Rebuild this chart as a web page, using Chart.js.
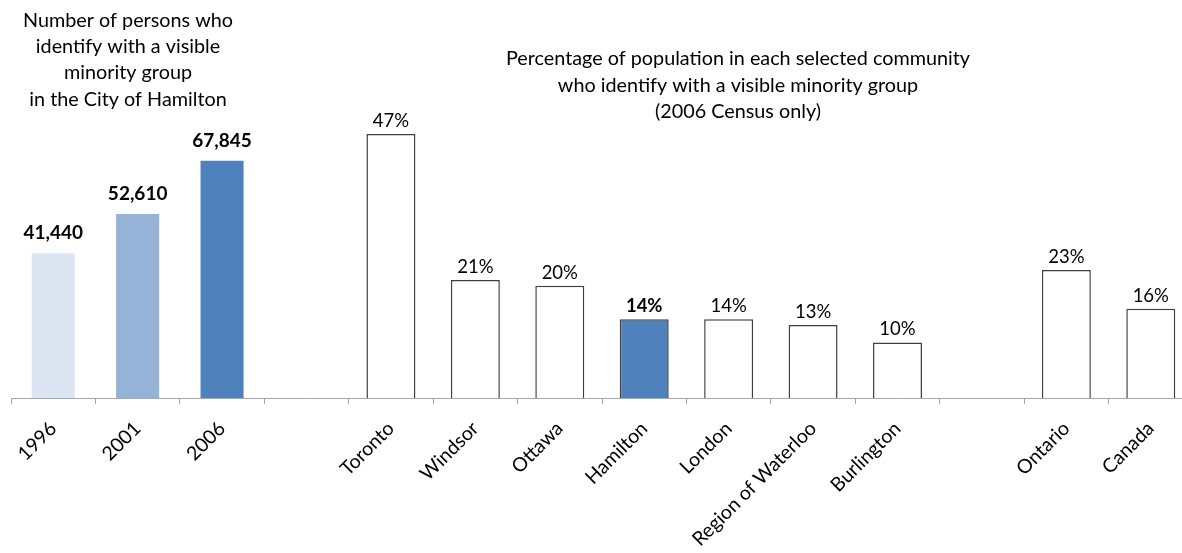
<!DOCTYPE html>
<html lang="en">
<head>
<meta charset="UTF-8">
<title>Visible Minority Groups - Hamilton</title>
<script src="https://cdn.jsdelivr.net/npm/chart.js"></script>
<style>
    html, body { margin: 0; padding: 0; overflow: hidden; background: #fff; }
    #wrap { position: relative; width: 1193px; height: 553px; }
</style>
</head>
<body>
<div id="wrap"><canvas id="myChart"></canvas></div>
<script>
    // Hamilton counts by census year
    const years = ['1996', '2001', '2006'];
    const yearCounts = [41440, 52610, 67845];
    const yearColors = ['#DCE6F2', '#95B3D7', '#4F81BD'];

    // 2006 percentages by community
    const communities = ['Toronto', 'Windsor', 'Ottawa', 'Hamilton', 'London', 'Region of Waterloo', 'Burlington'];
    const communityPct = [47, 21, 20, 14, 14, 13, 9.9];
    const regions = ['Ontario', 'Canada'];
    const regionPct = [22.8, 15.9];

    const leftTitle = ['Number of persons who', 'identify with a visible', 'minority group', 'in the City of Hamilton'];
    const rightTitle = ['Percentage of population in each selected community', 'who identify with a visible minority group', '(2006 Census only)'];

    const labels = [...years, '', ...communities, '', ...regions];
    const countData = labels.map(l => {
        const i = years.indexOf(l);
        return i >= 0 ? yearCounts[i] : null;
    });
    const pctData = labels.map(l => {
        let i = communities.indexOf(l);
        if (i >= 0) return communityPct[i];
        i = regions.indexOf(l);
        return i >= 0 ? regionPct[i] : null;
    });
    const countColors = labels.map(l => yearColors[years.indexOf(l)] || '#fff');
    const pctColors = labels.map(l => l === 'Hamilton' ? '#4F81BD' : '#FFFFFF');

    const FONT = 'Lato, "Open Sans", sans-serif';

    const valueLabels = {
        id: 'valueLabels',
        afterDatasetsDraw(chart) {
            const ctx = chart.ctx;
            ctx.save();
            ctx.textAlign = 'center';
            ctx.textBaseline = 'alphabetic';
            ctx.fillStyle = '#000';
            chart.data.datasets.forEach((ds, i) => {
                chart.getDatasetMeta(i).data.forEach((bar, j) => {
                    const v = ds.data[j];
                    if (v == null) return;
                    if (i === 0) {
                        ctx.font = 'bold 19px ' + FONT;
                        ctx.fillText(v.toLocaleString('en-US'), bar.x, bar.y - 14);
                    } else {
                        ctx.font = (labels[j] === 'Hamilton' ? 'bold ' : '') + '18.5px ' + FONT;
                        ctx.fillText(Math.round(v) + '%', bar.x, bar.y - 7);
                    }
                });
            });
            ctx.restore();
        }
    };

    const titles = {
        id: 'titles',
        afterDraw(chart) {
            const ctx = chart.ctx;
            ctx.save();
            ctx.textAlign = 'center';
            ctx.fillStyle = '#000';
            ctx.font = '19.8px ' + FONT;
            leftTitle.forEach((t, i) => ctx.fillText(t, 128, 27 + i * 26.2));
            rightTitle.forEach((t, i) => ctx.fillText(t, 738, 65 + i * 26.5));
            ctx.restore();
        }
    };

    new Chart(document.getElementById('myChart'), {
        type: 'bar',
        data: {
            labels: labels,
            datasets: [{
                data: countData,
                yAxisID: 'yCount',
                backgroundColor: countColors,
                borderWidth: 0,
                barPercentage: 0.51,
                categoryPercentage: 1,
                grouped: false
            }, {
                data: pctData,
                yAxisID: 'yPct',
                backgroundColor: pctColors,
                borderColor: '#404040',
                borderWidth: 1.5,
                barPercentage: 0.58,
                categoryPercentage: 1,
                grouped: false
            }]
        },
        options: {
            responsive: true,
            maintainAspectRatio: false,
            animation: false,
            layout: { padding: { left: 11, top: 61, right: 0, bottom: 0 } },
            plugins: {
                legend: { display: false },
                tooltip: { enabled: false }
            },
            scales: {
                x: {
                    afterFit(scale) { scale.height = 155; },
                    grid: {
                        offset: true,
                        drawOnChartArea: false,
                        drawTicks: true,
                        tickLength: 6,
                        color: '#A6A6A6'
                    },
                    border: { display: true, color: '#A6A6A6', width: 1 },
                    ticks: {
                        autoSkip: false,
                        maxRotation: 45,
                        minRotation: 45,
                        padding: 13,
                        color: '#000',
                        font: { family: FONT, size: 19.5 }
                    }
                },
                yCount: { display: false, min: 0, max: 96400 },
                yPct: { display: false, min: 0, max: 60 }
            }
        },
        plugins: [valueLabels, titles]
    });
</script>
</body>
</html>
